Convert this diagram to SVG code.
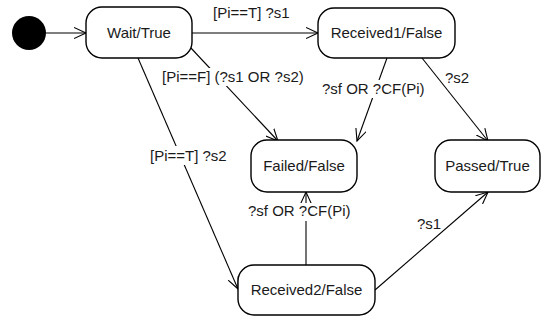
<svg xmlns="http://www.w3.org/2000/svg" width="545" height="320" viewBox="0 0 545 320">
<style>
.node{fill:#fff;stroke:#000;stroke-width:1.4}
.t{font-family:"Liberation Sans",Arial,sans-serif;font-size:15px;fill:#1a1a1a}
.c{text-anchor:middle}
.e{fill:none;stroke:#000;stroke-width:1.1;marker-end:url(#arr)}
.bg{fill:#fff}
</style>
<defs>
<marker id="arr" markerUnits="userSpaceOnUse" markerWidth="14" markerHeight="12" refX="12" refY="6" orient="auto">
<path d="M0,0.5 L12,6 L0,11.5" fill="none" stroke="#000" stroke-width="1.1"/>
</marker>
</defs>
<g id="connectors">
<line class="e" x1="46" y1="33" x2="86" y2="33"/>
<line class="e" x1="192" y1="33" x2="318" y2="33"/>
<line class="e" x1="190" y1="47" x2="278" y2="141"/>
<line class="e" x1="138" y1="58" x2="238" y2="289"/>
<line class="e" x1="387" y1="58" x2="357" y2="141"/>
<line class="e" x1="422" y1="58" x2="488" y2="141"/>
<line class="e" x1="306" y1="265" x2="306" y2="192"/>
<line class="e" x1="375" y1="290" x2="488" y2="192"/>
<g id="labels">
<rect class="bg" x="211" y="5" width="86" height="17"/>
<text class="t" x="213" y="18">[Pi==T] ?s1</text>
<rect class="bg" x="160" y="68" width="150" height="18"/>
<text class="t" x="162" y="82">[Pi==F] (?s1 OR ?s2)</text>
<rect class="bg" x="148" y="146" width="84" height="19"/>
<text class="t" x="150" y="161">[Pi==T] ?s2</text>
<rect class="bg" x="320" y="80" width="107" height="18"/>
<text class="t" x="322" y="94">?sf OR ?CF(Pi)</text>
<text class="t" x="445" y="83">?s2</text>
<rect class="bg" x="246" y="203" width="107" height="18"/>
<text class="t" x="248" y="216">?sf OR ?CF(Pi)</text>
<text class="t" x="417" y="229">?s1</text>
</g>
</g>
<g id="initial"><circle cx="29" cy="33" r="17" fill="#000"/></g>
<g id="wait"><rect class="node" x="86" y="7" width="106" height="51" rx="16"/><text class="t c" x="139" y="38">Wait/True</text></g>
<g id="received1"><rect class="node" x="318" y="8" width="137" height="50" rx="16"/><text class="t c" x="386.5" y="38">Received1/False</text></g>
<g id="failed"><rect class="node" x="251" y="140" width="106" height="52" rx="16"/><text class="t c" x="304" y="171">Failed/False</text></g>
<g id="passed"><rect class="node" x="435" y="140" width="105" height="52" rx="16"/><text class="t c" x="487.5" y="171">Passed/True</text></g>
<g id="received2"><rect class="node" x="238" y="265" width="137" height="50" rx="16"/><text class="t c" x="306.5" y="295">Received2/False</text></g>
</svg>
